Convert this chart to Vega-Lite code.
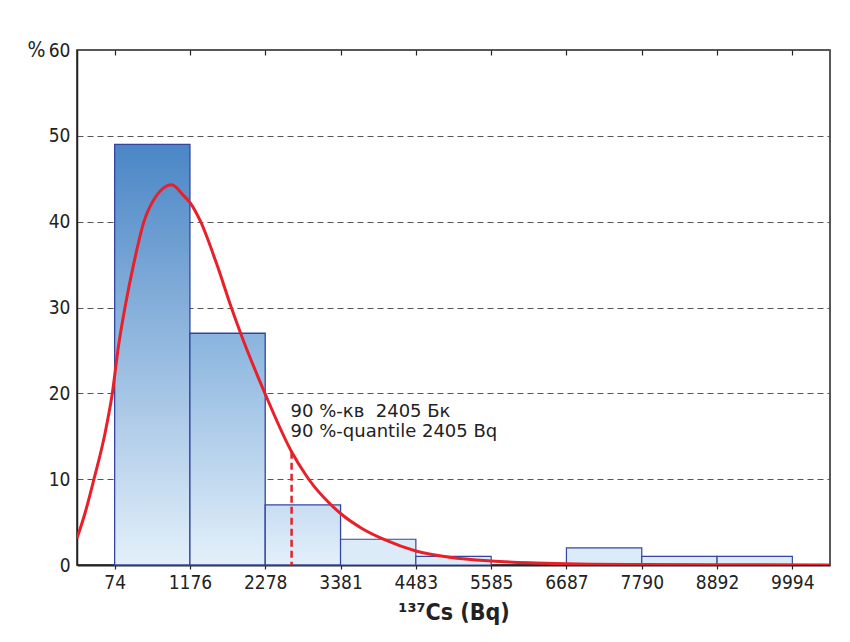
{
  "$schema": "https://vega.github.io/schema/vega-lite/v6.json",
  "width": 753,
  "height": 515,
  "autosize": {"type": "none"},
  "padding": {"left": 77, "top": 50, "right": 20, "bottom": 77},
  "background": "white",
  "config": {
    "view": {"stroke": "#222", "strokeWidth": 1.5},
    "axis": {"labelFont": "DejaVu Sans Condensed, Roboto, sans-serif", "labelFontSize": 19, "labelColor": "#222", "titleColor": "#222"}
  },
  "datasets": {
    "bins": [
      {"lo": 74, "hi": 1176, "pct": 49},
      {"lo": 1176, "hi": 2278, "pct": 27},
      {"lo": 2278, "hi": 3381, "pct": 7},
      {"lo": 3381, "hi": 4483, "pct": 3},
      {"lo": 4483, "hi": 5585, "pct": 1},
      {"lo": 6687, "hi": 7790, "pct": 2},
      {"lo": 7790, "hi": 8892, "pct": 1},
      {"lo": 8892, "hi": 9994, "pct": 1}
    ],
    "curve": [
      {"v": -478, "p": 3.1},
      {"v": -361, "p": 6.0},
      {"v": -229, "p": 10},
      {"v": -68, "p": 15.3},
      {"v": 40, "p": 20},
      {"v": 128, "p": 25.4},
      {"v": 225, "p": 30},
      {"v": 356, "p": 35.2},
      {"v": 503, "p": 40},
      {"v": 674, "p": 42.9},
      {"v": 908, "p": 44.3},
      {"v": 1088, "p": 43.0},
      {"v": 1180, "p": 42.2},
      {"v": 1333, "p": 40},
      {"v": 1562, "p": 35.2},
      {"v": 1782, "p": 30},
      {"v": 1918, "p": 27},
      {"v": 2274, "p": 20},
      {"v": 2664, "p": 13.2},
      {"v": 2880, "p": 10.4},
      {"v": 3000, "p": 9.1},
      {"v": 3150, "p": 7.75},
      {"v": 3381, "p": 6.0},
      {"v": 3700, "p": 4.23},
      {"v": 4025, "p": 2.95},
      {"v": 4483, "p": 1.63},
      {"v": 4977, "p": 0.9},
      {"v": 5585, "p": 0.46},
      {"v": 6148, "p": 0.25},
      {"v": 6687, "p": 0.14},
      {"v": 7790, "p": 0.05},
      {"v": 8892, "p": 0.02},
      {"v": 10545, "p": 0.01}
    ],
    "quant": [{"q": 2664, "top": 13.2}],
    "notes": [
      {"x": 2664, "y": 17.25, "label": "90 %-кв \u00a02405 Бк"},
      {"x": 2664, "y": 14.95, "label": "90 %-quantile 2405 Bq"}
    ]
  },
  "layer": [
    {
      "data": {"name": "bins"},
      "transform": [{"filter": "datum.pct >= 40"}],
      "mark": {"type": "rect", "stroke": "#34459f", "strokeWidth": 1.3,
        "fill": {"gradient": "linear", "x1": 0, "y1": 0, "x2": 0, "y2": 1, "stops": [{"offset": 0, "color": "#4a86c6"}, {"offset": 1, "color": "#e3f0fa"}]}},
      "encoding": {
        "x": {
          "field": "lo", "type": "quantitative",
          "scale": {"domain": [-477, 10545], "nice": false, "zero": false},
          "axis": {
            "orient": "bottom",
            "values": [74, 1176, 2278, 3381, 4483, 5585, 6687, 7790, 8892, 9994],
            "format": "d",
            "grid": false,
            "domainColor": "#222", "domainWidth": 2,
            "tickColor": "#222", "tickSize": 4, "tickWidth": 1.2,
            "labelPadding": 4,
            "title": "¹³⁷Cs (Bq)",
            "titleFont": "DejaVu Sans Condensed, Roboto, sans-serif", "titleFontSize": 23, "titleFontWeight": "bold",
            "titlePadding": 9
          }
        },
        "x2": {"field": "hi"},
        "y": {
          "field": "pct", "type": "quantitative",
          "scale": {"domain": [0, 60], "nice": false},
          "axis": {
            "values": [0, 10, 20, 30, 40, 50, 60],
            "grid": true, "gridColor": "#555", "gridDash": [6, 4], "gridWidth": 1.2,
            "ticks": false, "labelPadding": 7,
            "domainColor": "#222", "domainWidth": 1.5,
            "title": "%", "titleAngle": 0, "titleFont": "DejaVu Sans Condensed, Roboto, sans-serif", "titleFontSize": 21,
            "titleFontWeight": "normal", "titleAlign": "center", "titleBaseline": "middle",
            "titleX": -41, "titleY": 0
          }
        },
        "y2": {"datum": 0}
      }
    },
    {
      "data": {"name": "bins"},
      "transform": [{"filter": "datum.pct >= 20 && datum.pct < 40"}],
      "mark": {"type": "rect", "stroke": "#34459f", "strokeWidth": 1.3,
        "fill": {"gradient": "linear", "x1": 0, "y1": 0, "x2": 0, "y2": 1, "stops": [{"offset": 0, "color": "#89b4de"}, {"offset": 1, "color": "#e3f0fa"}]}},
      "encoding": {
        "x": {"field": "lo", "type": "quantitative", "axis": null},
        "x2": {"field": "hi"},
        "y": {"field": "pct", "type": "quantitative"},
        "y2": {"datum": 0}
      }
    },
    {
      "data": {"name": "bins"},
      "transform": [{"filter": "datum.pct >= 5 && datum.pct < 20"}],
      "mark": {"type": "rect", "stroke": "#34459f", "strokeWidth": 1.3,
        "fill": {"gradient": "linear", "x1": 0, "y1": 0, "x2": 0, "y2": 1, "stops": [{"offset": 0, "color": "#c8ddf2"}, {"offset": 1, "color": "#e3f0fa"}]}},
      "encoding": {
        "x": {"field": "lo", "type": "quantitative", "axis": null},
        "x2": {"field": "hi"},
        "y": {"field": "pct", "type": "quantitative"},
        "y2": {"datum": 0}
      }
    },
    {
      "data": {"name": "bins"},
      "transform": [{"filter": "datum.pct < 5"}],
      "mark": {"type": "rect", "stroke": "#34459f", "strokeWidth": 1.2, "fill": "#dcebf8"},
      "encoding": {
        "x": {"field": "lo", "type": "quantitative", "axis": null},
        "x2": {"field": "hi"},
        "y": {"field": "pct", "type": "quantitative"},
        "y2": {"datum": 0}
      }
    },
    {
      "data": {"name": "curve"},
      "mark": {"type": "line", "color": "#e8202a", "strokeWidth": 3, "clip": true, "interpolate": "monotone"},
      "encoding": {
        "x": {"field": "v", "type": "quantitative",
          "axis": {"orient": "top", "values": [74, 1176, 2278, 3381, 4483, 5585, 6687, 7790, 8892, 9994], "labels": false, "domain": false, "grid": false, "tickSize": -5, "tickColor": "#222", "tickWidth": 1.2, "title": null}},
        "y": {"field": "p", "type": "quantitative"}
      }
    },
    {
      "data": {"name": "quant"},
      "mark": {"type": "rule", "color": "#e8202a", "strokeWidth": 2.5, "strokeDash": [7, 4]},
      "encoding": {
        "x": {"field": "q", "type": "quantitative", "axis": null},
        "y": {"field": "top", "type": "quantitative"},
        "y2": {"datum": 0}
      }
    },
    {
      "data": {"name": "notes"},
      "mark": {"type": "text", "align": "left", "baseline": "alphabetic", "font": "DejaVu Sans", "fontSize": 18, "color": "#222", "dx": -1},
      "encoding": {
        "x": {"field": "x", "type": "quantitative", "axis": null},
        "y": {"field": "y", "type": "quantitative"},
        "text": {"field": "label"}
      }
    }
  ],
  "resolve": {"axis": {"x": "independent"}}
}
